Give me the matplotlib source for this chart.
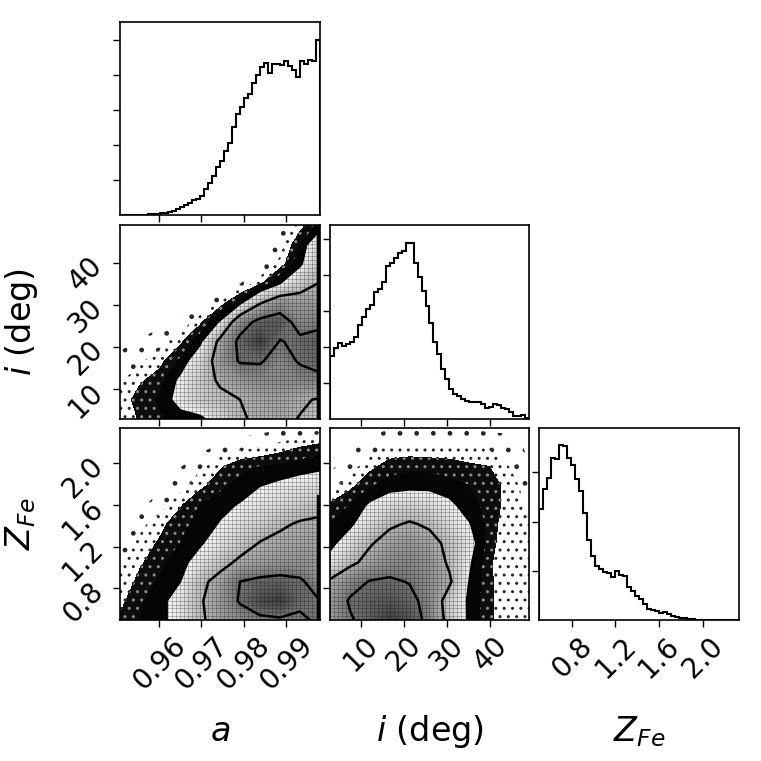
import numpy as np
import matplotlib
matplotlib.use("Agg")
import matplotlib.pyplot as plt
from matplotlib.colors import LinearSegmentedColormap

# ---------------- data ----------------
a_range = (0.9508, 0.998)
i_range = (2.9, 48.9)
z_range = (0.498, 2.334)

a_ticks = [0.96, 0.97, 0.98, 0.99]
a_ticklabels = ["0.96", "0.97", "0.98", "0.99"]
i_ticks = [10, 20, 30, 40]
i_ticklabels = ["10", "20", "30", "40"]
z_ticks = [0.8, 1.2, 1.6, 2.0]
z_ticklabels = ["0.8", "1.2", "1.6", "2.0"]

labels = ["$a$", "$i$ (deg)", "$Z_{Fe}$"]

# 1D marginal histograms (50 bins each, relative counts)
a_hist = [0, 0, 0, 0, 0, 0, 0, 3, 3, 3, 5, 5,
          8, 13, 18, 23, 29, 35, 44, 47, 57, 77,
          95, 118, 143, 162, 192, 215, 263, 302, 324, 350,
          362, 395, 418, 442, 455, 425, 452, 452, 448, 462,
          447, 435, 412, 462, 452, 464, 462, 525]
i_hist = [190, 214, 228, 220, 226, 232, 245, 282, 306, 328,
          340, 380, 388, 410, 458, 466, 483, 497, 502, 528,
          528, 468, 426, 382, 338, 286, 232, 195, 151, 121,
          91, 76, 68, 60, 54, 50, 52, 52, 46, 32,
          36, 44, 42, 34, 30, 22, 10, 10, 12, 4]
z_hist = [335, 393, 428, 488, 483, 525, 523, 488, 467, 423,
          387, 322, 242, 192, 162, 152, 145, 140, 128, 147,
          135, 133, 100, 88, 73, 62, 48, 32, 30, 27,
          22, 24, 18, 12, 8, 7, 6, 3, 2, 1,
          0, 0, 0, 0, 0, 0, 0, 0, 0, 0]
a_hist_tick_step = 105
i_hist_tick_step = 108
z_hist_tick_step = 148

# 2D density estimates on an 11x11 node grid spanning each panel
# (rows listed from top of panel to bottom, columns left to right)
dens_a_i = [
    [0, 0, 0, 0, 0, 0, 0, 0, 0.4, 1.4, 2.5],
    [0, 0, 0, 0, 0, 0, 0, 0.2, 0.8, 2.3, 4.5],
    [0, 0, 0, 0, 0, 0, 0, 0.4, 1.3, 2.8, 5.0],
    [0, 0, 0, 0, 0, 0, 0.4, 1.5, 3.0, 4.5, 5.6],
    [0, 0, 0, 0, 0.4, 1.2, 2.8, 5.3, 6.8, 6.5, 6.5],
    [0, 0.1, 0.3, 0.6, 1.5, 3.2, 7.0, 8.6, 9.0, 7.2, 7.5],
    [0.3, 0.5, 0.8, 1.5, 2.8, 6.0, 8.5, 10.0, 7.9, 8.4, 8.8],
    [0.6, 1.0, 1.5, 2.4, 4.0, 6.5, 8.2, 8.2, 7.2, 8.2, 8.6],
    [1.0, 1.6, 2.0, 3.3, 4.5, 5.8, 6.5, 7.0, 7.0, 7.2, 7.6],
    [1.3, 2.0, 2.4, 3.5, 4.5, 5.0, 5.5, 6.0, 6.2, 5.8, 5.3],
    [1.0, 1.8, 2.2, 2.6, 2.7, 4.0, 5.2, 6.0, 6.0, 5.4, 5.0],
]
dens_a_z = [
    [0, 0, 0, 0, 0, 0, 0, 0.2, 0.3, 0.5, 0.8],
    [0, 0, 0, 0, 0.2, 0.6, 0.9, 1.1, 1.4, 1.7, 1.9],
    [0, 0, 0.1, 0.4, 1.0, 1.6, 2.1, 2.3, 2.4, 2.6, 2.8],
    [0, 0.1, 0.3, 0.8, 1.5, 2.1, 2.5, 3.0, 3.3, 3.6, 3.8],
    [0, 0.3, 0.8, 1.6, 2.3, 2.7, 3.1, 3.6, 4.0, 4.5, 5.0],
    [0.4, 0.9, 1.5, 2.1, 2.5, 3.1, 3.8, 4.4, 5.2, 5.7, 5.8],
    [0.8, 1.3, 1.8, 2.3, 2.9, 3.6, 4.6, 5.6, 6.0, 6.2, 6.3],
    [1.0, 1.6, 2.1, 2.7, 3.5, 4.8, 5.9, 6.3, 6.6, 6.8, 6.6],
    [1.2, 1.9, 2.4, 3.0, 5.0, 6.2, 8.0, 8.5, 8.7, 8.3, 7.0],
    [1.5, 2.2, 2.7, 3.6, 5.3, 6.5, 8.2, 9.5, 10.0, 8.5, 8.0],
    [1.8, 2.3, 2.8, 3.4, 5.2, 6.3, 7.0, 7.5, 7.7, 7.6, 8.4],
]
dens_i_z = [
    [0, 0, 0.2, 0.4, 0.4, 0.3, 0.4, 0.4, 0.3, 0.3, 0],
    [0, 0.3, 0.8, 1.2, 1.3, 1.2, 1.2, 1.2, 1.0, 0.8, 0.3],
    [0.3, 0.8, 1.5, 2.0, 2.1, 2.1, 2.0, 1.8, 1.7, 1.1, 0.5],
    [0.8, 1.5, 2.2, 2.6, 2.7, 2.7, 2.5, 2.3, 2.1, 1.4, 0.8],
    [1.8, 2.3, 3.2, 3.9, 4.2, 4.0, 3.3, 2.5, 2.1, 1.4, 1.0],
    [2.3, 2.8, 4.0, 5.2, 5.7, 5.2, 4.0, 3.1, 2.0, 1.3, 1.1],
    [2.7, 3.8, 5.3, 6.3, 6.6, 6.2, 5.0, 3.6, 1.9, 1.3, 1.1],
    [3.5, 5.0, 6.2, 7.0, 7.3, 6.8, 5.2, 3.2, 1.8, 1.2, 1.1],
    [5.8, 7.2, 8.1, 8.3, 7.9, 7.0, 5.8, 3.0, 1.8, 1.3, 1.1],
    [6.5, 8.2, 8.8, 9.2, 8.6, 7.2, 4.5, 2.8, 1.8, 1.3, 1.1],
    [6.3, 7.8, 8.7, 10.0, 9.2, 7.3, 4.8, 2.8, 1.8, 1.3, 1.2],
]
contour_levels = [3.0, 5.5, 8.0]

# pile-up of samples at the upper bound of a
edge_a = 0.9975
edge_ai_i = (3.0, 47.0)
edge_az_z = (0.5, 1.68)

# ---------------- figure ----------------
W = H = 761
fig = plt.figure(figsize=(W / 100, H / 100), dpi=100)
plt.rcParams["hatch.linewidth"] = 1.0

cols = [(120, 320), (330, 529), (539, 739)]
rows = [(22, 215), (225, 419), (428, 620)]


def make_ax(c, r):
    l, rgt = cols[c]
    t, b = rows[r]
    return fig.add_axes([l / W, 1 - b / H, (rgt - l) / W, (b - t) / H])


dens_cmap = LinearSegmentedColormap.from_list("dens", [(0.96, 0.96, 0.96), (0.26, 0.26, 0.26)])


def style(ax):
    for s in ax.spines.values():
        s.set_linewidth(1.2)
    ax.tick_params(direction="out", length=5, width=1, labelsize=20)


def hist_panel(ax, vals, rng, step):
    edges = np.linspace(rng[0], rng[1], len(vals) + 1)
    ax.stairs(vals, edges, color="k", lw=1.5)
    ax.set_xlim(rng)
    top = 1.1 * max(vals)
    ax.set_ylim(0, top)
    ax.set_yticks(np.arange(step, top, step))
    ax.set_yticklabels([])
    style(ax)


def dens_panel(ax, grid, xr, yr):
    x = np.linspace(xr[0], xr[1], 11)
    y = np.linspace(yr[1], yr[0], 11)[::-1]
    Z = np.array(grid, dtype=float)[::-1]
    X, Y = np.meshgrid(x, y)
    with plt.rc_context({"hatch.color": "0.15"}):
        ax.contourf(X, Y, Z, levels=[0.45, 1.1], colors="none", hatches=["."])
        ax.contourf(X, Y, Z, levels=[1.1, 1.7], colors="none", hatches=[".."])
    with plt.rc_context({"hatch.color": "0.55"}):
        ax.contourf(X, Y, Z, levels=[1.7, 2.3], colors=["0.05"], hatches=[".."])
    ax.contourf(X, Y, Z, levels=[2.3, 3.0], colors=["0.02"])
    ax.contourf(X, Y, Z, levels=np.linspace(3.0, 10.0, 36), cmap=dens_cmap, extend="max")
    mask = ax.contourf(X, Y, Z, levels=[3.0, 100], colors="none")
    clip = mask.get_paths()[0]
    ex = np.linspace(xr[0], xr[1], 51)
    ey = np.linspace(yr[0], yr[1], 51)
    v = ax.vlines(ex, yr[0], yr[1], colors=[(0, 0, 0, 0.33)], lw=0.5)
    h = ax.hlines(ey, xr[0], xr[1], colors=[(0, 0, 0, 0.33)], lw=0.5)
    v.set_clip_path(clip, ax.transData)
    h.set_clip_path(clip, ax.transData)
    ax.contour(X, Y, Z, levels=contour_levels, colors="k", linewidths=1.8)
    ax.set_xlim(xr)
    ax.set_ylim(yr)
    style(ax)


# top row
ax_a = make_ax(0, 0)
hist_panel(ax_a, a_hist, a_range, a_hist_tick_step)
ax_a.set_xticks(a_ticks)
ax_a.set_xticklabels([])

# middle row
ax_ai = make_ax(0, 1)
dens_panel(ax_ai, dens_a_i, a_range, i_range)
ax_ai.plot([edge_a, edge_a], edge_ai_i, color="k", lw=2.3)
ax_ai.set_xticks(a_ticks)
ax_ai.set_xticklabels([])
ax_ai.set_yticks(i_ticks)
ax_ai.set_yticklabels(i_ticklabels, rotation=45)

ax_i = make_ax(1, 1)
hist_panel(ax_i, i_hist, i_range, i_hist_tick_step)
ax_i.set_xticks(i_ticks)
ax_i.set_xticklabels([])

# bottom row
ax_az = make_ax(0, 2)
dens_panel(ax_az, dens_a_z, a_range, z_range)
ax_az.plot([edge_a, edge_a], edge_az_z, color="k", lw=2.3)
ax_az.set_xticks(a_ticks)
ax_az.set_xticklabels(a_ticklabels, rotation=45)
ax_az.set_yticks(z_ticks)
ax_az.set_yticklabels(z_ticklabels, rotation=45)

ax_iz = make_ax(1, 2)
dens_panel(ax_iz, dens_i_z, i_range, z_range)
ax_iz.set_xticks(i_ticks)
ax_iz.set_xticklabels(i_ticklabels, rotation=45)
ax_iz.set_yticks(z_ticks)
ax_iz.set_yticklabels([])

ax_z = make_ax(2, 2)
hist_panel(ax_z, z_hist, z_range, z_hist_tick_step)
ax_z.set_xticks(z_ticks)
ax_z.set_xticklabels(z_ticklabels, rotation=45)

# axis labels
for ax, lab in zip([ax_az, ax_iz, ax_z], labels):
    ax.set_xlabel(lab, fontsize=24, va="center")
    ax.xaxis.set_label_coords(0.5, -0.58)
for ax, lab in zip([ax_ai, ax_az], labels[1:]):
    ax.set_ylabel(lab, fontsize=24, va="center")
    ax.yaxis.set_label_coords(-0.495, 0.5)

fig.savefig("out.png", dpi=100)
